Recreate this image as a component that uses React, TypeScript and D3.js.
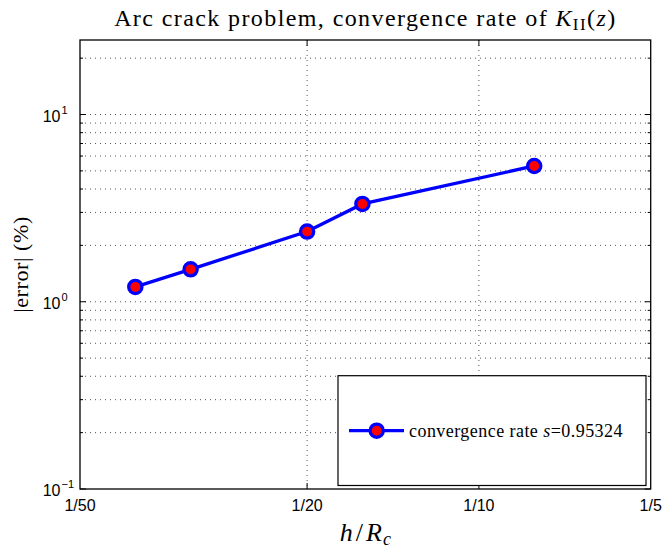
import React from "react";
import * as d3 from "d3";

const hValues = [1 / 40, 1 / 32, 1 / 20, 1 / 16, 1 / 8];
const errorValues = [1.2, 1.49, 2.37, 3.33, 5.31];
const xTickValues = [1 / 50, 1 / 20, 1 / 10, 1 / 5];
const xTickLabels = ["1/50", "1/20", "1/10", "1/5"];
const yTickExponents = [-1, 0, 1];
const legendLabel = "convergence rate ";
const legendValue = "=0.95324";

const W = 665;
const H = 549;
const L = 80, R = 650.7, T = 40, B = 489;

export default function App() {
  const x = d3.scaleLog().domain([0.02, 0.2]).range([L, R]);
  const y = d3.scaleLog().domain([0.1, 25]).range([B, T]);

  const minorY: number[] = [];
  [-1, 0, 1].forEach((e) => {
    for (let m = 2; m <= 9; m++) {
      const v = m * Math.pow(10, e);
      if (v <= 25) minorY.push(v);
    }
  });
  const majorY = yTickExponents.map((e) => Math.pow(10, e));

  const line = d3
    .line<number>()
    .x((_, i) => x(hValues[i]))
    .y((d) => y(d));

  const gridStyle = { stroke: "#555", strokeWidth: 1, strokeDasharray: "1,4" };
  const serif = "'Liberation Serif', 'Times New Roman', serif";
  const sans = "'Liberation Sans', Arial, sans-serif";

  const innerX = xTickValues.filter((v) => v > 0.02 && v < 0.2);

  return (
    <svg width={W} height={H} style={{ position: "absolute", left: 0, top: 0, background: "#fff" }}>
      <rect x={0} y={0} width={W} height={H} fill="#fff" />
      {/* grid */}
      {[...majorY, ...minorY]
        .filter((v) => v > 0.1)
        .map((v, i) => (
          <line key={"gy" + i} x1={L} x2={R} y1={y(v)} y2={y(v)} {...gridStyle} />
        ))}
      {innerX.map((v, i) => (
        <line key={"gx" + i} x1={x(v)} x2={x(v)} y1={T} y2={B} {...gridStyle} />
      ))}
      {/* ticks */}
      {majorY.map((v, i) => (
        <g key={"ty" + i}>
          <line x1={L} x2={L + 6} y1={y(v)} y2={y(v)} stroke="#000" />
          <line x1={R} x2={R - 6} y1={y(v)} y2={y(v)} stroke="#000" />
        </g>
      ))}
      {minorY.map((v, i) => (
        <g key={"tmy" + i}>
          <line x1={L} x2={L + 3} y1={y(v)} y2={y(v)} stroke="#000" />
          <line x1={R} x2={R - 3} y1={y(v)} y2={y(v)} stroke="#000" />
        </g>
      ))}
      {innerX.map((v, i) => (
        <g key={"tx" + i}>
          <line x1={x(v)} x2={x(v)} y1={B} y2={B - 6} stroke="#000" />
          <line x1={x(v)} x2={x(v)} y1={T} y2={T + 6} stroke="#000" />
        </g>
      ))}
      {/* axes box */}
      <rect x={L} y={T} width={R - L} height={B - T} fill="none" stroke="#000" strokeWidth={1.3} />
      {/* tick labels */}
      {xTickValues.map((v, i) => (
        <text key={"xl" + i} x={x(v)} y={511} textAnchor="middle" fontFamily={sans} fontSize={16} fill="#000">
          {xTickLabels[i]}
        </text>
      ))}
      {yTickExponents.map((e, i) => (
        <g key={"yl" + i}>
          <text x={60.5} y={y(Math.pow(10, e)) + 7} textAnchor="end" fontFamily={sans} fontSize={16} fill="#000">
            10
          </text>
          <text x={61.5} y={y(Math.pow(10, e)) - 1} fontFamily={sans} fontSize={11} fill="#000">
            {e < 0 ? "\u2212" + Math.abs(e) : String(e)}
          </text>
        </g>
      ))}
      {/* data */}
      <path d={line(errorValues) || ""} fill="none" stroke="#0000ff" strokeWidth={3.3} />
      {errorValues.map((v, i) => (
        <circle key={"p" + i} cx={x(hValues[i])} cy={y(v)} r={6.6} fill="#ff0000" stroke="#0000ff" strokeWidth={3.3} />
      ))}
      {/* legend */}
      <rect x={338} y={375.7} width={308} height={109.8} fill="#fff" stroke="#000" strokeWidth={1.2} />
      <line x1={349} x2={404} y1={430.7} y2={430.7} stroke="#0000ff" strokeWidth={3.3} />
      <circle cx={376.7} cy={430.7} r={6.6} fill="#ff0000" stroke="#0000ff" strokeWidth={3.3} />
      <text x={409} y={436.5} fontFamily={serif} fontSize={18} letterSpacing={0.45} fill="#000">
        {legendLabel}
        <tspan fontStyle="italic">s</tspan>
        {legendValue}
      </text>
      {/* title */}
      <text x={(L + R) / 2} y={26} textAnchor="middle" fontFamily={serif} fontSize={24} letterSpacing={1.4} fill="#000">
        Arc crack problem, convergence rate of <tspan fontStyle="italic">K</tspan>
        <tspan fontSize={17} dy={4}>II</tspan>
        <tspan dy={-4}>(</tspan>
        <tspan fontStyle="italic">z</tspan>)
      </text>
      {/* axis labels */}
      <text x={(L + R) / 2} y={541} textAnchor="middle" fontFamily={serif} fontSize={26} fill="#000">
        <tspan fontStyle="italic">h</tspan>
        <tspan dx={3}>/</tspan>
        <tspan fontStyle="italic" dx={3}>R</tspan>
        <tspan fontStyle="italic" fontSize={18} dx={1} dy={4}>c</tspan>
      </text>
      <text
        transform={`translate(28,${(T + B) / 2}) rotate(-90)`}
        textAnchor="middle"
        fontFamily={serif}
        fontSize={22}
        letterSpacing={0.6}
        fill="#000"
      >
        |error| (%)
      </text>
    </svg>
  );
}
